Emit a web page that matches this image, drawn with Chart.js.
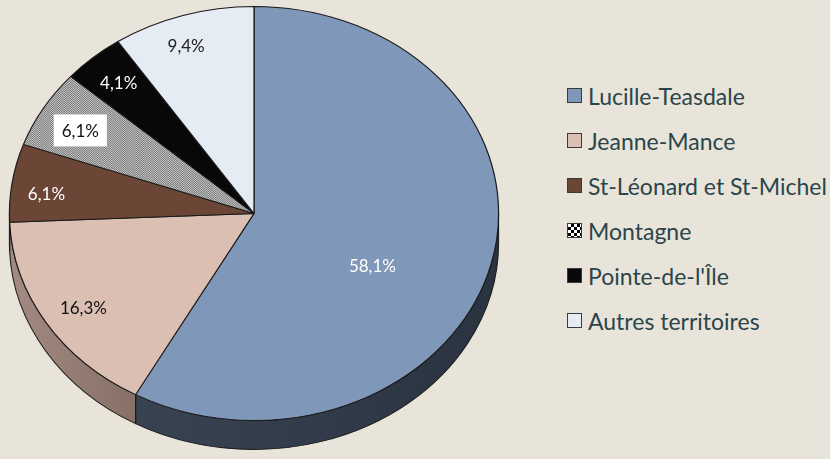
<!DOCTYPE html>
<html>
<head>
<meta charset="utf-8">
<script src="https://cdn.jsdelivr.net/npm/chart.js@4/dist/chart.umd.min.js"></script>
<style>
  body { margin: 0; background: #e9e4da; width: 830px; height: 459px; overflow: hidden; position: relative; font-family: Lato, "Noto Sans", sans-serif; }
  #wrap { position: absolute; left: 0; top: 0; width: 508px; height: 459px; }
  #legend { position: absolute; left: 567px; top: 73px; margin: 0; padding: 0; list-style: none; }
  #legend li { height: 45px; display: flex; align-items: center; font-size: 23px; color: #2b454b; white-space: nowrap; }
  #legend span.box { width: 13px; height: 13px; border: 1px solid #3a3a3a; margin-right: 6px; flex: none; }
</style>
</head>
<body>
<div id="wrap"><canvas id="pie"></canvas></div>
<ul id="legend"></ul>
<script>
const labels = ["Lucille-Teasdale", "Jeanne-Mance", "St-Léonard et St-Michel", "Montagne", "Pointe-de-l'Île", "Autres territoires"];
const values = [58.1, 16.3, 6.1, 6.1, 4.1, 9.4];

const colors = ["#7f97b8", "#dbbfb2", "#6b4536", null, "#080808", "#e5ecf4"];
const labelColors = ["#ffffff", "#111111", "#ffffff", "#111111", "#ffffff", "#222222"];
const labelFrac = [0.5, 0.82, 0.85, 0.81, 0.84, 0.87];
const labelShift = [[0, 26], [0, 5], [-2, 6], [-3, 2], [0, 0], [-6, 4]];
const depth = 29;
const sx = 244 / 206.5;

// grey halftone for Montagne
function makePattern() {
  const c = document.createElement("canvas");
  c.width = 4; c.height = 4;
  const g = c.getContext("2d");
  g.fillStyle = "#d0d0d0"; g.fillRect(0, 0, 4, 4);
  g.fillStyle = "#6e6e6e";
  for (let i = 0; i < 4; i++) for (let j = 0; j < 4; j++) if ((i + j) % 2 === 0) g.fillRect(i, j, 1, 1);
  return g.createPattern(c, "repeat");
}
colors[3] = makePattern();

function sideFill(ctx, i, x, r) {
  const g = ctx.createLinearGradient(x - r, 0, x + r, 0);
  if (i === 0) { g.addColorStop(0, "#3d4858"); g.addColorStop(1, "#2a3340"); return g; }
  if (i === 1) { g.addColorStop(0, "#a38b82"); g.addColorStop(0.5, "#6c564c"); g.addColorStop(1, "#5a463d"); return g; }
  return "#333";
}

const pie3d = {
  id: "pie3d",
  beforeDatasetsDraw(chart) {
    const ctx = chart.ctx;
    const arcs = chart.getDatasetMeta(0).data;
    const { x, y } = arcs[0];
    ctx.save();
    ctx.translate(x, y); ctx.scale(sx, 1); ctx.translate(-x, -y);
    arcs.forEach((a, i) => {
      const a0 = Math.max(a.startAngle, 0), a1 = Math.min(a.endAngle, Math.PI);
      if (a1 <= a0) return;
      const r = a.outerRadius;
      ctx.beginPath();
      ctx.arc(x, y, r, a0, a1);
      ctx.arc(x, y + depth, r, a1, a0, true);
      ctx.closePath();
      ctx.fillStyle = sideFill(ctx, i, x, r);
      ctx.fill();
      ctx.lineWidth = 0.9;
      ctx.strokeStyle = "#1a1a1a";
      ctx.stroke();
    });
  },
  afterDatasetsDraw(chart) {
    const ctx = chart.ctx;
    ctx.restore();
    const arcs = chart.getDatasetMeta(0).data;
    ctx.font = "17px Lato, 'Noto Sans', sans-serif";
    ctx.textAlign = "center";
    ctx.textBaseline = "middle";
    arcs.forEach((a, i) => {
      const mid = (a.startAngle + a.endAngle) / 2;
      const r = a.outerRadius * labelFrac[i];
      const px = a.x + Math.cos(mid) * r * sx + labelShift[i][0];
      const py = a.y + Math.sin(mid) * r + labelShift[i][1];
      const txt = values[i].toFixed(1).replace(".", ",") + "%";
      if (i === 3) {
        const w = ctx.measureText(txt).width + 16;
        ctx.fillStyle = "#ffffff";
        ctx.fillRect(px - w / 2, py - 16, w, 32);
      }
      ctx.fillStyle = labelColors[i];
      ctx.fillText(txt, px, py + 1);
    });
  }
};

new Chart(document.getElementById("pie"), {
  type: "pie",
  data: {
    labels,
    datasets: [{
      data: values,
      backgroundColor: colors,
      borderColor: "#1a1a1a",
      borderWidth: 1
    }]
  },
  options: {
    responsive: true,
    maintainAspectRatio: false,
    animation: false,
    layout: { padding: { top: 6, bottom: 38 } },
    plugins: { legend: { display: false }, tooltip: { enabled: false } }
  },
  plugins: [pie3d]
});

// legend
const legend = document.getElementById("legend");
labels.forEach((l, i) => {
  const li = document.createElement("li");
  const box = document.createElement("span");
  box.className = "box";
  if (i === 3) {
    box.style.background = "repeating-conic-gradient(#000 0 25%, #fff 0 50%) 0 0 / 6px 6px";
  } else {
    box.style.background = colors[i];
  }
  li.appendChild(box);
  li.appendChild(document.createTextNode(l));
  legend.appendChild(li);
});
</script>
</body>
</html>
